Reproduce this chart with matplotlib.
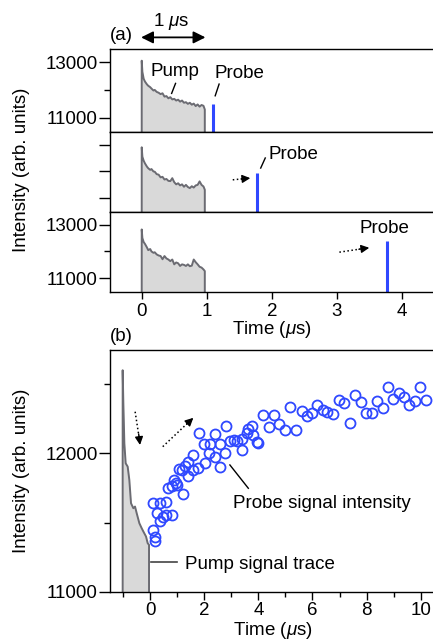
import matplotlib
matplotlib.use("Agg")
import matplotlib.pyplot as plt
from matplotlib.ticker import FixedLocator, NullFormatter, NullLocator

plt.rcParams['font.family'] = ['Liberation Sans', 'DejaVu Sans']
plt.rcParams['mathtext.fontset'] = 'custom'
plt.rcParams['mathtext.rm'] = 'Liberation Sans'
plt.rcParams['mathtext.it'] = 'Liberation Sans:italic'
plt.rcParams['axes.linewidth'] = 1.0

# ---------------- data ----------------
# (a) pump traces (time in us, intensity)
pump_t = [0.00, 0.01, 0.03, 0.05, 0.08, 0.10, 0.13, 0.15, 0.18, 0.20, 0.23, 0.26,
          0.29, 0.32, 0.35, 0.38, 0.41, 0.44, 0.47, 0.50, 0.53, 0.56, 0.59, 0.62,
          0.65, 0.68, 0.71, 0.74, 0.77, 0.80, 0.83, 0.86, 0.89, 0.92, 0.95, 0.97]
pump_top = [13050, 12650, 12400, 12300, 12200, 12150, 12100, 12050, 11980, 12000, 11930, 11900,
            11850, 11880, 11760, 11780, 11700, 11740, 11660, 11680, 11620, 11650, 11580, 11620,
            11540, 11560, 11500, 11540, 11470, 11510, 11420, 11480, 11400, 11460, 11430, 11300]
pump_mid = [12900, 12550, 12400, 12300, 12180, 12120, 12060, 12090, 12000, 11990, 11900, 11880,
            11780, 11800, 11700, 11720, 11650, 11640, 11750, 11600, 11520, 11560, 11480, 11520,
            11430, 11500, 11420, 11380, 11450, 11400, 11480, 11500, 11630, 11500, 11440, 11320]
pump_bot = [12820, 12500, 12350, 12280, 12150, 12050, 12090, 12000, 11950, 11970, 11890, 11850,
            11830, 11710, 11830, 11740, 11700, 11640, 11700, 11520, 11590, 11560, 11460, 11520,
            11500, 11460, 11520, 11450, 11470, 11700, 11600, 11520, 11430, 11400, 11330, 11270]
pump_traces = [pump_top, pump_mid, pump_bot]

# (a) probe pulses
probe_t = [1.09, 1.78, 3.78]
probe_h = [11500, 11950, 12380]

# (b) pump signal trace
bpump_t = [-1.01, -1.01, -0.985, -0.948, -0.899, -0.825, -0.764, -0.702, -0.616, -0.554,
           -0.492, -0.394, -0.308, -0.246, -0.148, -0.086, -0.037, -0.037]
bpump_y = [11000, 12599, 12360, 12072, 11928, 11904, 11808, 11640, 11604, 11616,
           11568, 11496, 11460, 11436, 11400, 11352, 11340, 11000]

# (b) probe signal intensity
probe_x = [0.1, 0.1, 0.18, 0.18, 0.27, 0.35, 0.37, 0.49, 0.6, 0.6,
           0.68, 0.8, 0.82, 0.9, 0.96, 1.0, 1.07, 1.17, 1.2, 1.29,
           1.4, 1.42, 1.58, 1.6, 1.79, 1.8, 2.0, 2.02, 2.19, 2.21,
           2.4, 2.4, 2.59, 2.59, 2.77, 2.8, 2.97, 3.1, 3.22, 3.38,
           3.4, 3.57, 3.6, 3.78, 3.8, 3.96, 4.0, 4.19, 4.38, 4.58,
           4.78, 4.99, 5.17, 5.39, 5.6, 5.79, 5.97, 6.18, 6.38, 6.55,
           6.77, 6.99, 7.17, 7.39, 7.57, 7.78, 7.98, 8.19, 8.37, 8.6,
           8.8, 8.99, 9.2, 9.38, 9.58, 9.79, 9.98, 10.2]
probe_y = [11450, 11645, 11400, 11365, 11573, 11645, 11515, 11540, 11648, 11556,
           11748, 11765, 11556, 11808, 11785, 11768, 11890, 11880, 11707, 11910,
           11840, 11940, 11988, 11882, 11892, 12146, 12065, 11928, 12000, 12065,
           12137, 11975, 12065, 11904, 12004, 12198, 12086, 12093, 12086, 12100,
           12024, 12146, 12173, 12194, 12132, 12084, 12077, 12276, 12188, 12276,
           12214, 12168, 12333, 12168, 12307, 12268, 12288, 12348, 12309, 12300,
           12285, 12388, 12366, 12221, 12423, 12371, 12292, 12288, 12379, 12326,
           12479, 12390, 12434, 12408, 12350, 12380, 12479, 12388]

# ---------------- figure ----------------
W, H = 433, 641
fig = plt.figure(figsize=(W / 100, H / 100), dpi=100)

def fx(px):
    return px / W

def fy(py):
    return 1 - py / H

L = fx(110)
AW = 1 - L
ax1 = fig.add_axes([L, fy(132), AW, 83 / H])
ax2 = fig.add_axes([L, fy(212), AW, 80 / H])
ax3 = fig.add_axes([L, fy(292), AW, 80 / H])
axb = fig.add_axes([L, fy(592), AW, 242 / H])

FS = 13.5
fill_c = '#d9d9d9'
edge_c = '#6b6b72'
blue = '#2f48ff'

YLO, YHI = 10490, 13470
for i, ax in enumerate([ax1, ax2, ax3]):
    ax.set_xlim(-0.488, 4.48)
    ax.set_ylim(YLO, YHI)
    ax.spines['right'].set_visible(False)
    xs = [0] + pump_t + [pump_t[-1]]
    ys = [YLO] + pump_traces[i] + [YLO]
    ax.fill_between(xs, ys, YLO, color=fill_c, lw=0)
    ax.plot(xs, ys, color=edge_c, lw=1.4)
    ax.plot([probe_t[i], probe_t[i]], [YLO, probe_h[i]], color=blue, lw=2.2, solid_capstyle='butt')
    ax.tick_params(axis='y', which='major', direction='out', length=8, width=1, labelsize=FS, pad=1)
    ax.tick_params(axis='y', which='minor', direction='out', length=4.5, width=1)
    ax.tick_params(axis='x', which='major', direction='out', length=5, width=1, labelsize=FS, pad=3)

for ax in [ax1, ax3]:
    ax.yaxis.set_major_locator(FixedLocator([11000, 13000]))
    ax.yaxis.set_minor_locator(FixedLocator([12000]))
ax2.yaxis.set_major_locator(FixedLocator([11000, 12000, 13000]))
ax2.yaxis.set_major_formatter(NullFormatter())
ax2.yaxis.set_minor_locator(NullLocator())
for ax in [ax1, ax2]:
    ax.xaxis.set_major_locator(NullLocator())
ax3.xaxis.set_major_locator(FixedLocator([0, 1, 2, 3, 4]))
ax3.set_xticklabels(['0', '1', '2', '3', '4'])

# annotations panel (a)
ax1.annotate('', xy=(-0.01, 13887), xytext=(0.98, 13887),
             arrowprops=dict(arrowstyle='<|-|>', color='black', lw=1.3,
                             mutation_scale=18, shrinkA=0, shrinkB=0),
             annotation_clip=False)
ax1.text(0.46, 14470, r'1 $\mu$s', fontsize=FS, ha='center', va='center', clip_on=False)
fig.text(fx(121.7), fy(35), '(a)', fontsize=FS, ha='center', va='center')
ax1.text(0.51, 12652, 'Pump', fontsize=FS, ha='center', va='center')
ax1.plot([0.46, 0.52], [11876, 12235], color='black', lw=1.0)
ax1.text(1.51, 12594, 'Probe', fontsize=FS, ha='center', va='center')
ax1.plot([1.13, 1.19], [11790, 12210], color='black', lw=1.0)

ax2.text(2.33, 12625, 'Probe', fontsize=FS, ha='center', va='center')
ax2.plot([1.83, 1.90], [12127, 12502], color='black', lw=1.0)
ax2.plot([1.40, 1.55], [11689, 11725], color='black', lw=1.1, ls=':')
ax2.annotate('', xy=(1.67, 11752), xytext=(1.53, 11720),
             arrowprops=dict(arrowstyle='-|>', color='black', lw=1.0, mutation_scale=12,
                             shrinkA=0, shrinkB=0))

ax3.text(3.74, 12841, 'Probe', fontsize=FS, ha='center', va='center')
ax3.plot([3.04, 3.36], [11974, 12090], color='black', lw=1.1, ls=':')
ax3.annotate('', xy=(3.50, 12137), xytext=(3.34, 12083),
             arrowprops=dict(arrowstyle='-|>', color='black', lw=1.0, mutation_scale=12,
                             shrinkA=0, shrinkB=0))

fig.text(fx(271.7), fy(330), r'Time ($\mu$s)', fontsize=FS, ha='center', va='center')
fig.text(fx(22), fy(170), 'Intensity (arb. units)', fontsize=FS, ha='center', va='center',
         rotation=90)

# ---------------- panel (b) ----------------
axb.set_xlim(-1.478, 10.45)
axb.set_ylim(11000, 12745)
axb.spines['right'].set_visible(False)
axb.fill_between(bpump_t, bpump_y, 11000, color=fill_c, lw=0)
axb.plot(bpump_t, bpump_y, color=edge_c, lw=1.4)
axb.plot(probe_x, probe_y, ls='none', marker='o', ms=7.2, mfc='none', mec=blue, mew=1.3)

axb.xaxis.set_major_locator(FixedLocator([0, 2, 4, 6, 8, 10]))
axb.xaxis.set_minor_locator(FixedLocator([-1, 1, 3, 5, 7, 9]))
axb.yaxis.set_major_locator(FixedLocator([11000, 12000]))
axb.yaxis.set_minor_locator(FixedLocator([11500, 12500]))
axb.tick_params(axis='y', which='major', direction='out', length=8, width=1, labelsize=FS, pad=1)
axb.tick_params(axis='y', which='minor', direction='out', length=4.5, width=1)
axb.tick_params(axis='x', which='major', direction='out', length=5.5, width=1, labelsize=FS, pad=2)
axb.tick_params(axis='x', which='minor', direction='out', length=3.5, width=1)

# dotted arrows in (b)
axb.plot([-0.55, -0.40], [12300, 12110], color='black', lw=1.1, ls=':')
axb.annotate('', xy=(-0.37, 12060), xytext=(-0.42, 12140),
             arrowprops=dict(arrowstyle='-|>', color='black', lw=1.0, mutation_scale=12,
                             shrinkA=0, shrinkB=0))
axb.plot([0.47, 1.40], [12048, 12220], color='black', lw=1.1, ls=':')
axb.annotate('', xy=(1.6, 12256), xytext=(1.35, 12210),
             arrowprops=dict(arrowstyle='-|>', color='black', lw=1.0, mutation_scale=12,
                             shrinkA=0, shrinkB=0))

axb.plot([2.95, 3.63], [11916, 11748], color='black', lw=1.0)
axb.text(3.08, 11640, 'Probe signal intensity', fontsize=FS, ha='left', va='center')
axb.plot([0.05, 0.98], [11213, 11213], color='#444444', lw=1.2)
axb.text(1.29, 11195, 'Pump signal trace', fontsize=FS, ha='left', va='center')

fig.text(fx(121.7), fy(336.7), '(b)', fontsize=FS, ha='center', va='center')
fig.text(fx(273), fy(630.5), r'Time ($\mu$s)', fontsize=FS, ha='center', va='center')
fig.text(fx(22), fy(471), 'Intensity (arb. units)', fontsize=FS, ha='center', va='center',
         rotation=90)

fig.savefig('out.png', dpi=100)
